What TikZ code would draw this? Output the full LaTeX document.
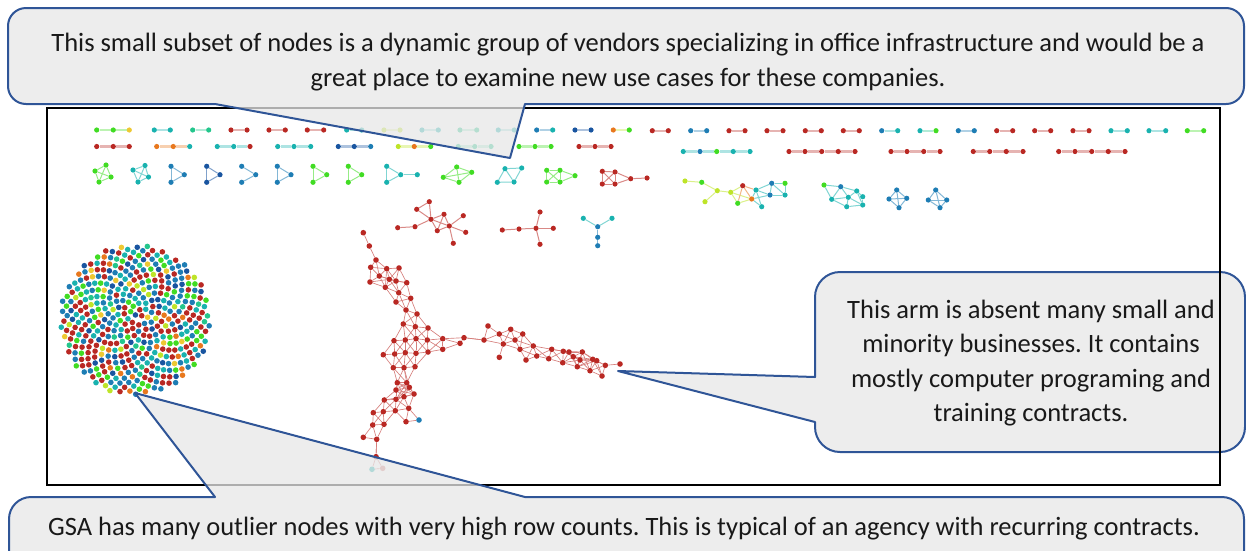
\documentclass[tikz,border=0pt]{standalone}
\usepackage{fontspec}
\setmainfont{Carlito}
\frenchspacing

\definecolor{cR}{RGB}{185,40,35}
\definecolor{cB}{RGB}{30,125,180}
\definecolor{cD}{RGB}{25,85,160}
\definecolor{cT}{RGB}{25,178,175}
\definecolor{cTG}{RGB}{35,198,140}
\definecolor{cG}{RGB}{65,220,35}
\definecolor{cYG}{RGB}{190,228,40}
\definecolor{cY}{RGB}{238,200,50}
\definecolor{cO}{RGB}{232,120,30}
\definecolor{calloutline}{RGB}{47,85,151}
\definecolor{calloutfill}{RGB}{231,231,231}

\pgfdeclarelayer{back}
\pgfdeclarelayer{edges}
\pgfsetlayers{back,edges,main}

\tikzset{
  dot/.style={circle,inner sep=0pt,minimum size=5.2pt,draw=none},
  bar/.style={draw=#1!35!white,line width=2.2pt},
  link/.style={draw=#1!55!white,line width=1pt},
  redge/.style={draw=cR!60!white,line width=0.65pt},
  frame/.style={draw=black,line width=2.5pt},
  callout/.style={draw=calloutline,line width=2pt,fill=calloutfill,fill opacity=0.75,line join=round},
  ctext/.style={text=black!90,font=\fontsize{26.5}{34.5}\selectfont,align=center,inner sep=0pt}
}

% a straight chain of dots at height #2; #3 = x/colour list, #4 = bar colour
\newcommand\chain[4]{%
  \foreach \x/\c [count=\k] in {#3} {\node[dot,fill=\c] (#1n\k) at (\x,#2) {};}
  \begin{pgfonlayer}{edges}
  \foreach \x/\c [count=\k] in {#3} {%
    \ifnum\k>1 \pgfmathtruncatemacro\pk{\k-1}\draw[bar=#4] (#1n\pk) -- (#1n\k);\fi}
  \end{pgfonlayer}}

% a small graph: #2 = x/y/colour list, #3 = a/b/colour edge list
\newcommand\smallnet[3]{%
  \foreach \x/\y/\c [count=\k] in {#2} {\node[dot,fill=\c] (#1n\k) at (\x,\y) {};}
  \begin{pgfonlayer}{edges}
  \foreach \a/\b/\ec in {#3} {\draw[link=\ec] (#1n\a) -- (#1n\b);}
  \end{pgfonlayer}}

% the large red component
\def\bignet{363.3/232.7/cR,369.3/246/cR,376/260/cR,370.7/267.3/cR,386.7/268.7/cR,
399/268/cR,379.3/276/cR,370/282/cR,389.3/279.3/cR,396/281/cR,406.7/282.7/cR,
385.3/287.3/cR,398.7/292.7/cR,410.7/298.3/cR,396/302/cR,406/310/cR,417/314/cR,
403.3/324/cR,415.3/326.7/cR,428/328/cR,394/340.7/cR,405.3/340/cR,416/338.7/cR,
427.3/340/cR,442.7/338.7/cR,383.3/354.7/cR,394.7/354/cR,405.3/352.7/cR,416/353.3/cR,
428/352/cR,442.7/349.3/cR,393.3/367.7/cR,404/367.7/cR,415/366.7/cR,464/337.7/cR,
460/343.3/cR,484/340/cR,488/326/cR,499.3/334/cR,510.7/329.3/cR,522.7/334/cR,
503.3/344/cR,499.3/357.3/cR,515/340/cR,520/349.3/cR,533.3/346/cR,526/360/cR,
536.7/356/cR,548.7/358.7/cR,551.7/349.3/cR,563.3/351.3/cR,562.7/362.7/cR,569/352/cR,
573.3/356.7/cR,577.3/366.7/cR,582.3/352/cR,580/360/cR,590/370.7/cR,592.7/359.3/cR,
596.7/360.7/cR,602/376/cR,605.3/365.3/cR,620/364/cR,397.3/382.7/cR,406.7/382.7/cR,
396/390/cR,409.3/387.3/cR,414/394/cR,384.3/400/cR,396/399.3/cR,404/396.7/cR,
408.7/408.3/cR,373.3/412.7/cR,383.3/411.7/cR,395.3/410.7/cR,419/420/cB,372.7/425/cR,
384/424.3/cR,406/421.7/cR,363.3/437.3/cR,376.7/439.3/cR,376/456.7/cR,372/469.3/cT,
382.7/468.3/cR!60!white}

\begin{document}
\begin{tikzpicture}[x=1pt,y=-1pt]
\useasboundingbox (0,0) rectangle (1246,550);

% plot frame
\begin{pgfonlayer}{back}
\draw[frame] (47,108) rectangle (1220,485);
\end{pgfonlayer}

% ---- first row: pairs and triples ----
\chain{a1}{130}{96.7/cG,113.3/cG,129.3/cY}{cG}
\chain{a2}{130}{154.3/cT,170.3/cT}{cT}
\chain{a3}{130}{192.7/cTG,208.7/cTG}{cTG}
\chain{a4}{130}{231/cR,247/cR}{cR}
\chain{a5}{130}{269/cR,285.3/cR}{cR}
\chain{a6}{130}{307.3/cR,323.7/cR}{cR}
\chain{a7}{130}{346.7/cT,361.7/cT}{cT}
\chain{a8}{130}{384/cYG,400/cYG}{cYG}
\chain{a9}{130}{422/cT,438.3/cT}{cT}
\chain{a10}{130}{460/cTG,476.7/cTG}{cTG}
\chain{a11}{130}{498.3/cT,514.3/cT}{cT}
\chain{a12}{130}{536.7/cB,552.7/cT}{cB}
\chain{a13}{130}{575/cD,591/cD}{cD}
\chain{a14}{130}{613.3/cO,629.3/cG}{cYG}
\chain{a15}{130.7}{652.3/cR,668.3/cR}{cR}
\chain{a16}{130.7}{690.7/cB,706.7/cB}{cB}
\chain{a17}{130.7}{729/cR,745/cR}{cR}
\chain{a18}{130.7}{767/cR,783/cR}{cR}
\chain{a19}{130.7}{805.3/cR,821.3/cR}{cR}
\chain{a20}{130.7}{843.3/cR,859.3/cR}{cR}
\chain{a21}{130.7}{881.7/cB,897.7/cT}{cT}
\chain{a22}{130.7}{920/cT,936/cG}{cTG}
\chain{a23}{130.7}{958.3/cB,974.3/cB}{cB}
\chain{a24}{130.7}{996.7/cR,1012.7/cR}{cR}
\chain{a25}{130.7}{1034.7/cR,1050.7/cR}{cR}
\chain{a26}{130.7}{1073/cR,1089/cR}{cR}
\chain{a27}{130.7}{1111/cT,1127.3/cT}{cT}
\chain{a28}{130.7}{1149/cT,1165.7/cT}{cT}
\chain{a29}{130.7}{1187.3/cG,1203.7/cG}{cG}

% ---- second row: chains ----
\chain{b1}{146.5}{96.7/cR,113.3/cR,129.3/cR}{cR}
\chain{b2}{146.5}{156.7/cO,173.3/cO,189.7/cT}{cO}
\chain{b3}{146.5}{217.3/cT,233.7/cT,250/cR}{cT}
\chain{b4}{146.5}{277.7/cT,294/cT,310.7/cT}{cT}
\chain{b5}{146.5}{338.3/cD,354.3/cD,370.7/cB}{cD}
\chain{b6}{146.5}{398.3/cYG,414.3/cO,430.7/cG}{cYG}
\chain{b7}{146.5}{458.3/cTG,474.7/cTG,491/cTG}{cTG}
\chain{b8}{146.5}{519/cG,535/cG,551/cG}{cG}
\chain{b9}{146.5}{579/cR,595/cR,611/cR}{cR}
\chain{b10}{151.5}{683.3/cT,700/cB,716.7/cG,733.3/cT,750/cT}{cT}
\chain{b11}{151.5}{789/cR,805/cR,821.7/cR,838.3/cR,855/cR}{cR}
\chain{b12}{151.5}{891/cR,907/cR,923.7/cR,940/cR}{cR}
\chain{b13}{151.5}{973.3/cR,989.7/cR,1006.3/cR,1023/cR}{cR}
\chain{b14}{151.5}{1058.7/cR,1075/cR,1091.7/cR,1108.3/cR,1125/cR}{cR}

% ---- third row: small graphs ----
\smallnet{g1}{95/171/cG,106/165/cG,111/177/cG,99/182/cG}
  {1/2/cG,2/3/cG,3/4/cG,4/1/cG,1/3/cG,2/4/cG}
\smallnet{g2}{133/170/cT,145/165.5/cT,148.5/177/cT,138/182/cT}
  {1/2/cT,2/3/cT,3/4/cT,4/1/cT,1/3/cT,2/4/cT}
\smallnet{g3}{171/166.3/cB,184.3/174.7/cB,171/182.3/cB}{1/2/cB,2/3/cB,3/1/cB}
\smallnet{g4}{206.7/166.3/cD,220/174.7/cD,206.7/182.3/cD}{1/2/cD,2/3/cD,3/1/cD}
\smallnet{g5}{241.7/166.3/cB,255.7/174.7/cB,241.7/182.3/cB}{1/2/cB,2/3/cB}
\smallnet{g6}{277.3/166.3/cB,291/174.7/cB,277.3/182.3/cB}{1/2/cB,2/3/cB,3/1/cB}
\smallnet{g7}{313/166.3/cG,326.7/174.7/cG,313/182.3/cG}{1/2/cG,2/3/cG,3/1/cG}
\smallnet{g8}{348.3/166.3/cG,361.7/174.7/cG,348.3/182.3/cG}{1/2/cG,2/3/cG,3/1/cG}
\smallnet{g9}{386.7/166.3/cT,400.7/174.7/cT,386.7/182.3/cT,417.3/174.7/cT}
  {1/2/cT,2/3/cT,3/1/cT,2/4/cT}
\smallnet{g10}{443.3/177.3/cG,456.7/167/cG,471.7/172.3/cG,459/182.3/cG}
  {1/2/cG,2/3/cG,3/4/cG,4/1/cG,2/4/cG,1/3/cG}
\smallnet{g11}{505/168.7/cT,521.7/168/cT,514/182/cT,497.3/182.3/cT}
  {1/2/cT,2/3/cT,3/4/cT,4/1/cT,1/3/cT}
\smallnet{g12}{546.7/170.3/cG,560/170.3/cG,546.7/182/cG,560/182/cG,575/175.7/cG}
  {1/2/cG,1/3/cG,1/4/cG,2/3/cG,2/4/cG,3/4/cG,2/5/cG,4/5/cG}
\smallnet{g13}{602.3/171.3/cR,615/172/cR,602.3/184/cR,615/184/cR,630.7/178.7/cR,647/178/cR}
  {1/2/cR,1/3/cR,1/4/cR,2/3/cR,2/4/cR,3/4/cR,2/5/cR,4/5/cR,5/6/cR}
\smallnet{g14}{685/181/cYG,701.7/182.3/cG,717.3/190.7/cYG,705/201.7/cYG,730.7/192.3/cYG,
  742.7/185.7/cR,737.7/203.3/cG,751.7/199/cO,756/190/cT,761.7/206.7/cT,771.7/183.3/cB,
  770/195/cB,785/183.3/cG,785/195/cT}
  {1/2/cYG,2/3/cYG,3/4/cYG,3/5/cYG,5/6/cYG,5/7/cYG,5/8/cYG,6/7/cO,6/8/cO,6/9/cO,7/8/cYG,
   8/9/cT,8/10/cT,9/11/cT,9/12/cT,11/12/cT,11/13/cT,11/14/cT,12/14/cT,12/8/cT,9/10/cT,13/14/cT}
\smallnet{g15}{824/185/cG,840.7/186.7/cB,856.7/191/cT,831.7/199.3/cT,848.3/197.3/cT,
  862.7/196.7/cT,846.7/206.7/cT,862.7/205/cT}
  {1/2/cT,1/4/cT,2/3/cT,2/4/cT,2/5/cT,3/5/cT,3/6/cT,4/5/cT,4/7/cT,5/7/cT,5/8/cT,6/8/cT,7/8/cT,3/8/cT}
\smallnet{g16}{896.7/190/cB,889/199/cB,906.7/198.3/cB,899/207.7/cB}
  {1/2/cB,1/3/cB,1/4/cB,2/3/cB,2/4/cB,3/4/cB}
\smallnet{g17}{935.7/190/cB,928.3/200/cB,946.7/200/cB,940/207.7/cB}
  {1/2/cB,1/3/cB,1/4/cB,2/3/cB,2/4/cB,3/4/cB}

% ---- mid-size components ----
\smallnet{g18}{429.3/201.7/cR,416.7/209.3/cR,431/219.3/cR,444/214.3/cR,463.3/215.7/cR,
  415/226.7/cR,397.7/227.7/cR,437.3/230.7/cR,449.3/226/cR,465.7/232.3/cR,453.3/243.3/cR}
  {1/2/cR,2/3/cR,1/3/cR,3/4/cR,3/6/cR,6/7/cR,3/8/cR,4/8/cR,4/9/cR,3/9/cR,9/5/cR,9/10/cR,9/11/cR,8/9/cR}
\smallnet{g19}{502.3/230/cR,519/229/cR,536/228.3/cR,540/212/cR,553.3/228.3/cR,540/244.3/cR}
  {1/2/cR,2/3/cR,3/4/cR,3/5/cR,3/6/cR}
\smallnet{g20}{583.3/218.3/cT,612/218.3/cT,597.7/226.7/cB,597.7/237.3/cB,597.7/245.7/cB}
  {1/3/cT,2/3/cT,3/4/cB,4/5/cB}

% ---- large red component, linked by proximity ----
\foreach \x/\y/\c [count=\i] in \bignet {\node[dot,minimum size=5.6pt,fill=\c] (r\i) at (\x,\y) {};}
\begin{pgfonlayer}{edges}
\foreach \ax/\ay/\ac [count=\i] in \bignet {
  \foreach \bx/\by/\bc [count=\j] in \bignet {
    \ifnum\j>\i
      \pgfmathsetmacro\dd{veclen(\ax-\bx,\ay-\by)}
      \ifdim\dd pt<20.5pt \draw[redge] (r\i) -- (r\j);\fi
    \fi}}
\foreach \a/\b in {25/35,35/37,81/82} {\draw[redge] (r\a) -- (r\b);}
\end{pgfonlayer}

% ---- isolated vendors in a sunflower spiral ----
\pgfmathsetseed{31}
\foreach \i in {1,...,440} {
  \pgfmathsetmacro\rr{3.58*sqrt(\i)}
  \pgfmathsetmacro\ang{360*(\i*0.381966-floor(\i*0.381966))}
  \pgfmathrandominteger{\k}{0}{23}
  \pgfmathparse{{"cR","cR","cR","cR","cR","cR","cB","cB","cB","cB","cB","cD","cD","cT","cT","cT","cT","cTG","cG","cG","cG","cYG","cY","cO"}[\k]}
  \let\bc\pgfmathresult
  \node[dot,minimum size=5.6pt,fill=\bc] (s\i) at ({135+\rr*cos(\ang)},{320+\rr*sin(\ang)}) {};
}

% ---- callouts ----
\draw[callout] (525,104) -- (1226,104) arc (90:0:18) -- (1244,26) arc (0:-90:18)
  -- (26,8) arc (-90:-180:18) -- (8,86) arc (180:90:18) -- (215,104) -- (510,158) -- cycle;
\node[ctext] (ttop) at (628,62) {This small subset of nodes is a dynamic group of vendors specializing in office infrastructure and would be a\\great place to examine new use cases for these companies.};

\draw[callout] (815,377) -- (815,297) arc (180:270:25) -- (1220,272) arc (270:360:25)
  -- (1245,427) arc (0:90:25) -- (840,452) arc (90:180:25) -- (815,422) -- (618,371) -- cycle;
\node[ctext] (tright) at (1031,363) {This arm is absent many small and\\minority businesses. It contains\\mostly computer programing and\\training contracts.};

\draw[callout] (525,497) -- (1222,497) arc (270:360:22) -- (1244,600) -- (9,600)
  -- (9,519) arc (180:270:22) -- (215,497) -- (135,393) -- cycle;
\node[ctext,anchor=base] (tbottom) at (624,535) {GSA has many outlier nodes with very high row counts. This is typical of an agency with recurring contracts.};

% right side of the frame stays visible over the callout
\draw[frame] (1220,106.75) -- (1220,486.25);
\end{tikzpicture}
\end{document}
